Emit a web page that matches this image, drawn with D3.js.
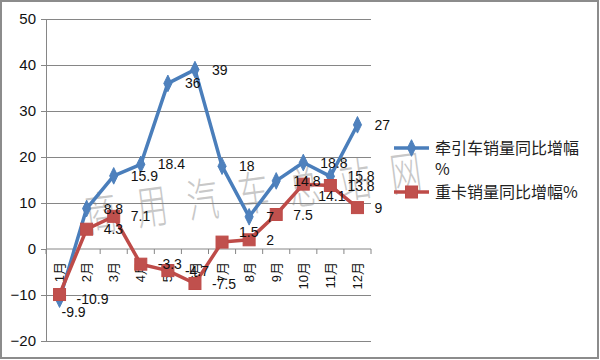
<!DOCTYPE html>
<html>
<head>
<meta charset="utf-8">
<script src="https://cdn.jsdelivr.net/npm/d3@7"></script>
<style>
  html, body { margin: 0; padding: 0; background: #fff; }
  svg { display: block; }
</style>
</head>
<body>
<svg id="chart" width="600" height="360"></svg>
<script>
const months = ["1月","2月","3月","4月","5月","6月","7月","8月","9月","10月","11月","12月"];
const tractorGrowth = [-10.9, 8.8, 15.9, 18.4, 36, 39, 18, 7, 14.8, 18.8, 15.8, 27];
const heavyTruckGrowth = [-9.9, 4.3, 7.1, -3.3, -4.7, -7.5, 1.5, 2, 7.5, 14.1, 13.8, 9];
const yTicks = [-20, -10, 0, 10, 20, 30, 40, 50];
const seriesNames = ["牵引车销量同比增幅%", "重卡销量同比增幅%"];
const watermarkText = "商用汽车总站网";

const svg = d3.select("#chart");
const latin = "'Liberation Sans', Arial, 'Noto Sans CJK SC', sans-serif";
const cjk = "'Noto Sans CJK SC', 'Liberation Sans', sans-serif";

// outer border
svg.append("rect").attr("x", 1).attr("y", 1).attr("width", 597).attr("height", 357)
  .attr("fill", "#fff").attr("stroke", "#8c8c8c").attr("stroke-width", 2);

const x = d3.scaleBand().domain(months).range([46, 371]);
const y = d3.scaleLinear().domain([-20, 50]).range([341, 19]);
const cx = m => x(m) + x.bandwidth() / 2;

// watermark
svg.append("text")
  .attr("transform", "translate(88,232) rotate(-7.5) scale(1,1.5)")
  .attr("font-family", cjk).attr("font-size", 31).attr("font-weight", 300)
  .attr("fill", "#c8c8c8")
  .attr("textLength", 338).attr("lengthAdjust", "spacing")
  .text(watermarkText);

// gridlines + y axis
const yAxis = d3.axisLeft(y).tickValues(yTicks).tickSize(5).tickPadding(5).tickFormat(d3.format("d"));
const gy = svg.append("g").attr("transform", "translate(46,0)").call(yAxis);
gy.select(".domain").attr("stroke", "#868686");
gy.selectAll(".tick line").attr("stroke", "#868686");
gy.selectAll(".tick text").attr("font-family", latin).attr("font-size", 15).attr("fill", "#111");
svg.append("g").selectAll("line").data(yTicks.filter(v => v !== 0)).join("line")
  .attr("x1", 46).attr("x2", 371).attr("y1", d => y(d) + 0.5).attr("y2", d => y(d) + 0.5)
  .attr("stroke", "#868686").attr("stroke-width", 1);

// x axis at zero
const xAxisLine = svg.append("g");
xAxisLine.append("line").attr("x1", 46).attr("x2", 371).attr("y1", y(0)).attr("y2", y(0))
  .attr("stroke", "#868686");
const boundaries = months.map(m => x(m)).concat([x(months[months.length - 1]) + x.bandwidth()]);
xAxisLine.selectAll("line.tk").data(boundaries).join("line").attr("class", "tk")
  .attr("x1", d => d).attr("x2", d => d).attr("y1", y(0)).attr("y2", y(0) + 5)
  .attr("stroke", "#868686");
xAxisLine.selectAll("text").data(months).join("text")
  .attr("transform", d => `translate(${cx(d)},${y(0) + 13}) rotate(-90)`)
  .attr("text-anchor", "end").attr("dy", "0.35em")
  .attr("font-family", latin).attr("font-size", 13).attr("fill", "#111")
  .text(d => d);

// series
const blue = "#4A7EBB", blueFill = "#4F81BD";
const red = "#BE4B48", redFill = "#C0504D";
const line = d3.line().x((d, i) => cx(months[i])).y(d => y(d));

svg.append("path").datum(tractorGrowth).attr("d", line)
  .attr("fill", "none").attr("stroke", blue).attr("stroke-width", 3.5).attr("stroke-linejoin", "round");
svg.append("g").selectAll("path").data(tractorGrowth).join("path")
  .attr("d", d3.symbol(d3.symbolDiamond, 80))
  .attr("transform", (d, i) => `translate(${cx(months[i])},${y(d)}) scale(0.85,1)`)
  .attr("fill", blueFill).attr("stroke", blue).attr("stroke-width", 1);

svg.append("path").datum(heavyTruckGrowth).attr("d", line)
  .attr("fill", "none").attr("stroke", red).attr("stroke-width", 3.5).attr("stroke-linejoin", "round");
svg.append("g").selectAll("rect").data(heavyTruckGrowth).join("rect")
  .attr("x", (d, i) => cx(months[i]) - 6).attr("y", d => y(d) - 6)
  .attr("width", 12).attr("height", 12)
  .attr("fill", redFill).attr("stroke", red).attr("stroke-width", 1);

// data labels (right of point), with a few nudges as in the reference
const nudgeRed = { 0: [2, 17], 6: [17, -10], 9: [15, 12] };
function labels(values, nudge) {
  svg.append("g").selectAll("text").data(values).join("text")
    .attr("x", (d, i) => cx(months[i]) + (nudge[i] ? nudge[i][0] : 17))
    .attr("y", (d, i) => y(d) + (nudge[i] ? nudge[i][1] : 0))
    .attr("dy", "0.36em")
    .attr("font-family", latin).attr("font-size", 14).attr("fill", "#111")
    .text(d => d);
}
labels(tractorGrowth, {});
labels(heavyTruckGrowth, nudgeRed);

// legend
const lg = svg.append("g").attr("font-family", cjk).attr("font-size", 16).attr("fill", "#222");
lg.append("line").attr("x1", 394).attr("x2", 429).attr("y1", 148).attr("y2", 148)
  .attr("stroke", blue).attr("stroke-width", 3.5);
lg.append("path").attr("d", d3.symbol(d3.symbolDiamond, 80))
  .attr("transform", "translate(411.5,148) scale(0.85,1)").attr("fill", blueFill).attr("stroke", blue);
lg.append("text").attr("x", 435).attr("y", 148).attr("dy", "0.36em").text(seriesNames[0].slice(0, -1));
lg.append("text").attr("x", 435).attr("y", 169).attr("dy", "0.36em").text(seriesNames[0].slice(-1));
lg.append("line").attr("x1", 394).attr("x2", 429).attr("y1", 192).attr("y2", 192)
  .attr("stroke", red).attr("stroke-width", 3.5);
lg.append("rect").attr("x", 405.5).attr("y", 186).attr("width", 12).attr("height", 12)
  .attr("fill", redFill).attr("stroke", red);
lg.append("text").attr("x", 435).attr("y", 192).attr("dy", "0.36em").text(seriesNames[1]);
</script>
</body>
</html>
